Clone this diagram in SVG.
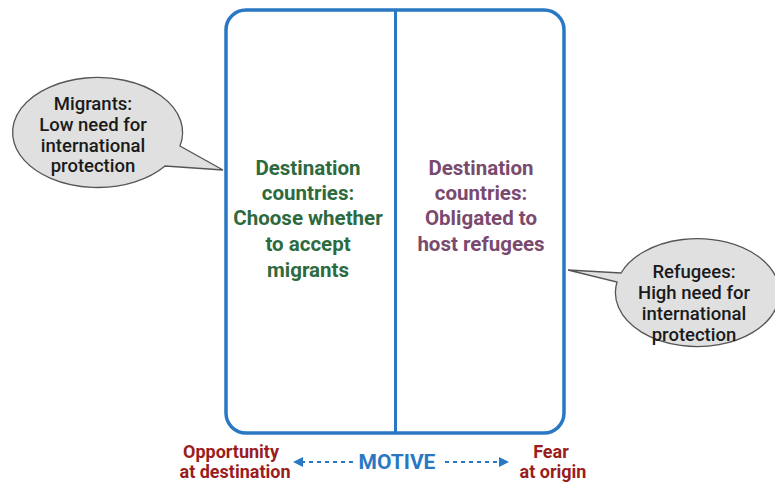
<svg xmlns="http://www.w3.org/2000/svg" width="775" height="482" viewBox="0 0 775 482">
<defs>
<style>
.bub{fill:#e0e0e0;stroke:#555;stroke-width:1.3}
.bt{font-family:Roboto,"Liberation Sans",sans-serif;font-size:18.5px;font-weight:500;fill:#1a1a1a;text-anchor:middle}
.hd{font-family:Roboto,"Liberation Sans",sans-serif;font-size:20.5px;font-weight:bold;text-anchor:middle}
.rd{font-family:Roboto,"Liberation Sans",sans-serif;font-size:18px;font-weight:bold;fill:#9a1d1d;text-anchor:middle}
.ar{stroke:#2a78c4;stroke-width:1.8;stroke-dasharray:4 4;fill:none}
</style>
<marker id="ah" markerWidth="10" markerHeight="10" refX="1" refY="5" orient="auto-start-reverse" markerUnits="userSpaceOnUse">
<path d="M0,0 L10,5 L0,10 z" fill="#2a78c4"/>
</marker>
</defs>
<g id="box">
<rect x="226" y="10" width="338" height="423" rx="20" ry="20" fill="#fff" stroke="#2a78c4" stroke-width="3.5"/>
<line x1="395.5" y1="10" x2="395.5" y2="433" stroke="#2a78c4" stroke-width="3"/>
</g>
<g id="migrants">
<path class="bub" d="M180,146 A85,55 0 1 0 165,166 L223,170 Z"/>
<text class="bt"><tspan x="93" y="110">Migrants:</tspan><tspan x="93" y="131">Low need for</tspan><tspan x="93" y="152">international</tspan><tspan x="93" y="172">protection</tspan></text>
</g>
<g id="refugees">
<path class="bub" d="M621,273 A82,54 0 1 1 617,282 L568,270 Z"/>
<text class="bt"><tspan x="694" y="278">Refugees:</tspan><tspan x="694" y="299">High need for</tspan><tspan x="694" y="320">international</tspan><tspan x="694" y="341">protection</tspan></text>
</g>
<g id="left-col">
<text class="hd" fill="#2d6a3e"><tspan x="308" y="175">Destination</tspan><tspan x="308" y="200">countries:</tspan><tspan x="308" y="225">Choose whether</tspan><tspan x="308" y="251">to accept</tspan><tspan x="308" y="277">migrants</tspan></text>
</g>
<g id="right-col">
<text class="hd" fill="#7a4a6e"><tspan x="481" y="175">Destination</tspan><tspan x="481" y="200">countries:</tspan><tspan x="481" y="225">Obligated to</tspan><tspan x="481" y="251">host refugees</tspan></text>
</g>
<g id="opportunity">
<text class="rd"><tspan x="231" y="458">Opportunity</tspan><tspan x="235" y="478">at destination</tspan></text>
</g>
<g id="fear">
<text class="rd"><tspan x="551" y="458">Fear</tspan><tspan x="553" y="478">at origin</tspan></text>
</g>
<g id="motive">
<text x="397" y="469" font-family="Roboto,'Liberation Sans',sans-serif" font-size="21px" font-weight="bold" fill="#2a78c4" text-anchor="middle">MOTIVE</text>
</g>
<g id="connectors">
<line class="ar" x1="353" y1="462" x2="302" y2="462" marker-end="url(#ah)"/>
<line class="ar" x1="445" y1="462" x2="500" y2="462" marker-end="url(#ah)"/>
</g>
</svg>
